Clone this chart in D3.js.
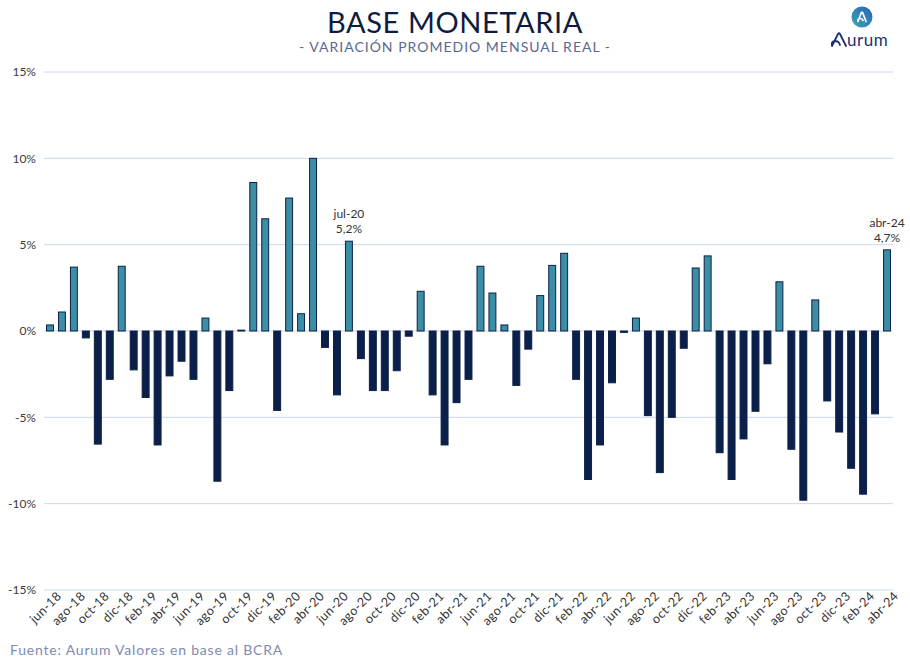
<!DOCTYPE html>
<html>
<head>
<meta charset="utf-8">
<script src="https://cdn.jsdelivr.net/npm/d3@7"></script>
<style>
  body { margin: 0; background: #fff; }
  svg { display: block; }
</style>
</head>
<body>
<div id="chart"></div>
<script>
// monthly real variation of the monetary base (%), jun-18 .. abr-24
var months = ["jun-18","jul-18","ago-18","sep-18","oct-18","nov-18","dic-18",
  "ene-19","feb-19","mar-19","abr-19","may-19","jun-19","jul-19","ago-19","sep-19","oct-19","nov-19","dic-19",
  "ene-20","feb-20","mar-20","abr-20","may-20","jun-20","jul-20","ago-20","sep-20","oct-20","nov-20","dic-20",
  "ene-21","feb-21","mar-21","abr-21","may-21","jun-21","jul-21","ago-21","sep-21","oct-21","nov-21","dic-21",
  "ene-22","feb-22","mar-22","abr-22","may-22","jun-22","jul-22","ago-22","sep-22","oct-22","nov-22","dic-22",
  "ene-23","feb-23","mar-23","abr-23","may-23","jun-23","jul-23","ago-23","sep-23","oct-23","nov-23","dic-23",
  "ene-24","feb-24","mar-24","abr-24"];

var values = [0.35, 1.1, 3.7, -0.4, -6.55, -2.8, 3.75,
  -2.25, -3.85, -6.6, -2.6, -1.75, -2.8, 0.75, -8.7, -3.45, 0.05, 8.6, 6.5,
  -4.6, 7.7, 1.0, 10.0, -0.95, -3.7, 5.2, -1.6, -3.45, -3.45, -2.3, -0.3,
  2.3, -3.7, -6.6, -4.15, -2.8, 3.75, 2.2, 0.35, -3.15, -1.05, 2.05, 3.8,
  4.5, -2.8, -8.6, -6.6, -3.0, -0.08, 0.75, -4.9, -8.2, -5.0, -1.0, 3.65,
  4.35, -7.05, -8.6, -6.25, -4.65, -1.9, 2.85, -6.85, -9.8, 1.8, -4.05, -5.85,
  -7.95, -9.45, -4.8, 4.7];

var yTicks = [15, 10, 5, 0, -5, -10, -15];

var annotations = [
  { month: "jul-20", label: "5,2%" },
  { month: "abr-24", label: "4,7%" }
];

var width = 910, height = 660;
var margin = { top: 72, right: 17, bottom: 70, left: 44 };
var font = "Lato, 'Open Sans', sans-serif";

var svg = d3.select("#chart").append("svg")
    .attr("width", width)
    .attr("height", height)
    .style("font-family", font);

var x = d3.scaleBand()
    .domain(months)
    .range([margin.left, width - margin.right])
    .paddingInner(0.42)
    .paddingOuter(0.21);

var y = d3.scaleLinear()
    .domain([-15, 15])
    .range([height - margin.bottom, margin.top]);

// titles
svg.append("text")
    .attr("x", 455)
    .attr("y", 33)
    .attr("text-anchor", "middle")
    .attr("font-size", 29)
    .attr("letter-spacing", 0.6)
    .attr("fill", "#0f1c3f")
    .text("BASE MONETARIA");

svg.append("text")
    .attr("x", 455)
    .attr("y", 52)
    .attr("text-anchor", "middle")
    .attr("font-size", 14)
    .attr("letter-spacing", 1)
    .attr("fill", "#5b6790")
    .text("- VARIACIÓN PROMEDIO MENSUAL REAL -");

// logo
var grad = svg.append("defs").append("linearGradient")
    .attr("id", "logoGrad")
    .attr("x1", "0%").attr("y1", "100%")
    .attr("x2", "100%").attr("y2", "0%");
grad.append("stop").attr("offset", "0%").attr("stop-color", "#3aa7b0");
grad.append("stop").attr("offset", "100%").attr("stop-color", "#2a62b8");

var logo = svg.append("g").attr("transform", "translate(862,17)");
logo.append("circle").attr("r", 10.5).attr("fill", "url(#logoGrad)");
logo.append("path")
    .attr("d", "M-4,4.5 L-0.8,-4 Q0,-5.5 0.8,-4 L4,4.5 M-4,4.5 Q-4.5,1.5 -2,1.5 Q0.5,1.5 1,3.5")
    .attr("fill", "none")
    .attr("stroke", "#fff")
    .attr("stroke-width", 1.7)
    .attr("stroke-linecap", "round")
    .attr("stroke-linejoin", "round");

svg.append("path")
    .attr("d", "M832,46 L838,34 Q839,32.5 840,34 L846,46 M832,46 Q831,41 835,41 Q839,41 840,45")
    .attr("fill", "none")
    .attr("stroke", "#1d3272")
    .attr("stroke-width", 1.8)
    .attr("stroke-linecap", "round")
    .attr("stroke-linejoin", "round");
svg.append("text")
    .attr("x", 847)
    .attr("y", 46)
    .attr("font-size", 17)
    .attr("letter-spacing", 0.5)
    .attr("fill", "#1d3272")
    .text("urum");

// grid + y axis
svg.append("g")
    .selectAll("line")
    .data(yTicks)
    .join("line")
    .attr("x1", margin.left)
    .attr("x2", width - margin.right)
    .attr("y1", d => y(d))
    .attr("y2", d => y(d))
    .attr("stroke", "#ccd7ea")
    .attr("stroke-width", 1);

var yAxis = svg.append("g")
    .attr("transform", "translate(" + margin.left + ",0)")
    .call(d3.axisLeft(y).tickValues(yTicks).tickSize(0).tickPadding(8)
        .tickFormat(d => d + "%"));
yAxis.select(".domain").remove();
yAxis.selectAll("text")
    .attr("font-size", 12)
    .attr("fill", "#3a3a3a")
    .style("font-family", font);

// bars
var data = months.map((m, i) => ({ month: m, value: values[i] }));

svg.append("g")
    .selectAll("rect")
    .data(data)
    .join("rect")
    .attr("x", d => x(d.month))
    .attr("width", x.bandwidth())
    .attr("y", d => y(Math.max(0, d.value)))
    .attr("height", d => Math.abs(y(d.value) - y(0)))
    .attr("fill", d => d.value >= 0 ? "#3b8ea6" : "#0b1f4b")
    .attr("stroke", "#0c2146")
    .attr("stroke-width", 1);

// x axis (every second month)
var xAxis = svg.append("g")
    .attr("transform", "translate(0," + (height - margin.bottom) + ")")
    .call(d3.axisBottom(x)
        .tickValues(months.filter((m, i) => i % 2 === 0))
        .tickSize(0).tickPadding(6));
xAxis.select(".domain").remove();
xAxis.selectAll("text")
    .attr("font-size", 12.5)
    .attr("letter-spacing", 0.4)
    .attr("fill", "#333")
    .style("font-family", font)
    .attr("text-anchor", "end")
    .attr("dx", "0.3em")
    .attr("dy", "0.6em")
    .attr("transform", "rotate(-45)");

// annotations
annotations.forEach(function (a) {
    var v = values[months.indexOf(a.month)];
    var cx = x(a.month) + x.bandwidth() / 2;
    svg.append("text")
        .attr("x", cx)
        .attr("y", y(v) - 23)
        .attr("text-anchor", "middle")
        .attr("font-size", 12)
        .attr("fill", "#333")
        .text(a.month);
    svg.append("text")
        .attr("x", cx)
        .attr("y", y(v) - 8)
        .attr("text-anchor", "middle")
        .attr("font-size", 12)
        .attr("fill", "#333")
        .text(a.label);
});

// source
svg.append("text")
    .attr("x", 10)
    .attr("y", 655)
    .attr("font-size", 14)
    .attr("letter-spacing", 0.8)
    .attr("fill", "#7d8cb0")
    .text("Fuente: Aurum Valores en base al BCRA");
</script>
</body>
</html>
